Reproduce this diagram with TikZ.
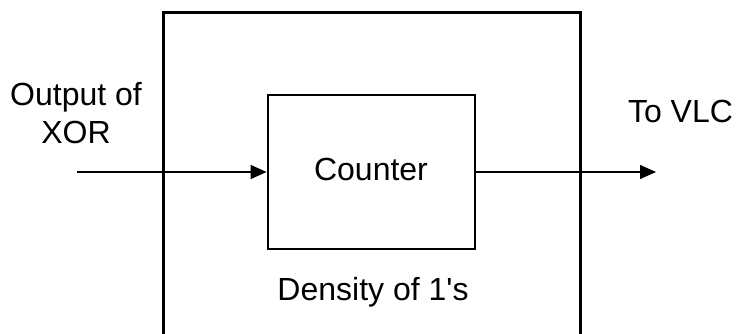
\documentclass[tikz,border=0pt]{standalone}
\usepackage{fontspec}
\setmainfont{Liberation Sans}[Ligatures=TeXOff]
\usetikzlibrary{arrows.meta}
\begin{document}
\begin{tikzpicture}[x=1pt,y=1pt,
  lbl/.style={font=\fontsize{32}{37}\selectfont, inner sep=0pt, anchor=base},
  blk/.style={draw, line width=2.8pt, minimum width=207pt, minimum height=154pt, inner sep=0pt},
  conn/.style={line width=1.3pt, -{Triangle[length=16pt,width=14pt]}}]
\useasboundingbox (0,0) rectangle (739,-334);
\clip (0,0) rectangle (739,-334);
\draw[line width=3pt] (163.5,-360) -- (163.5,-13) -- (580,-13) -- (580,-360);
\node[blk] (counter) at (371.5,-172) {};
\node[lbl] (ctext) at (371,-181) {Counter};
\node[lbl] (dens) at (373,-300) {Density of 1's};
\node[lbl] (out1) at (76,-106) {Output of};
\node[lbl] (out2) at (76,-143) {XOR};
\node[lbl] (vlc) at (680.5,-123) {To VLC};
\coordinate (in) at (77,-172);
\coordinate (outp) at (656,-172);
\draw[conn] (in) -- (counter.west);
\draw[conn] (counter.east) -- (outp);
\end{tikzpicture}
\end{document}
